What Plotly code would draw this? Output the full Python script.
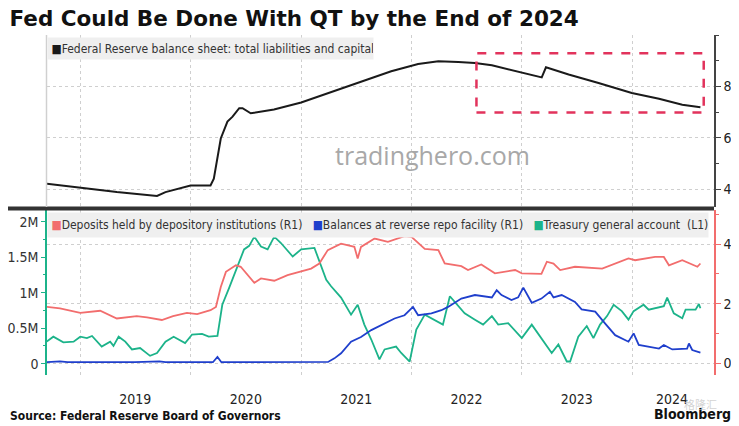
import plotly.graph_objects as go

# ---------------- data ----------------
title_text = "Fed Could Be Done With QT by the End of 2024"
source_text = "Source: Federal Reserve Board of Governors"

bs_name = "Federal Reserve balance sheet: total liabilities and capital"
bs_dates = ["2018-09-12", "2019-01-01", "2019-05-02", "2019-09-12", "2019-10-10", "2020-01-01",
            "2020-03-07", "2020-03-18", "2020-04-10", "2020-05-02", "2020-05-19", "2020-06-10",
            "2020-06-21", "2020-07-18", "2020-10-03", "2021-01-01", "2021-03-17", "2021-07-07",
            "2021-10-26", "2022-01-23", "2022-03-31", "2022-06-05", "2022-07-30", "2022-09-24",
            "2022-12-10", "2023-03-08", "2023-03-22", "2023-06-05", "2023-09-12", "2023-12-31",
            "2024-03-30", "2024-06-15", "2024-08-14"]
bs_vals = [4.21, 4.05, 3.88, 3.73, 3.88, 4.14,
           4.14, 4.40, 5.97, 6.63, 6.82, 7.15,
           7.15, 6.95, 7.10, 7.37, 7.67, 8.13,
           8.59, 8.87, 8.98, 8.95, 8.91, 8.82,
           8.59, 8.35, 8.74, 8.46, 8.13, 7.74,
           7.52, 7.28, 7.19]

dep_name = "Deposits held by depository institutions (R1)"
dep_dates = ["2018-09-12", "2018-10-26", "2019-01-01", "2019-03-08", "2019-05-02", "2019-07-07",
             "2019-08-10", "2019-09-28", "2019-11-04", "2019-12-20", "2020-01-23", "2020-03-07",
             "2020-03-25", "2020-04-10", "2020-04-27", "2020-05-30", "2020-06-15", "2020-07-30",
             "2020-08-21", "2020-10-04", "2020-11-17", "2021-02-03", "2021-03-02", "2021-03-30",
             "2021-05-13", "2021-06-26", "2021-07-07", "2021-07-18", "2021-09-01", "2021-10-15",
             "2021-12-09", "2022-01-01", "2022-02-14", "2022-03-31", "2022-04-21", "2022-06-15",
             "2022-07-07", "2022-08-20", "2022-10-04", "2022-12-10", "2023-01-01", "2023-03-07",
             "2023-03-25", "2023-04-16", "2023-05-08", "2023-06-26", "2023-09-24", "2023-11-06",
             "2023-12-20", "2024-01-11", "2024-03-17", "2024-04-15", "2024-05-02", "2024-06-15",
             "2024-08-04", "2024-08-14"]
dep_vals = [1.89, 1.84, 1.69, 1.76, 1.50, 1.58,
            1.54, 1.45, 1.58, 1.69, 1.65, 1.78,
            1.89, 2.56, 3.07, 3.29, 3.24, 2.70,
            2.85, 2.77, 2.96, 3.18, 3.35, 3.80,
            4.02, 3.91, 3.52, 3.91, 4.19, 4.08,
            4.27, 4.25, 3.84, 3.80, 3.35, 3.26,
            3.13, 3.32, 3.02, 3.13, 3.02, 3.00,
            3.41, 3.35, 3.13, 3.24, 3.18, 3.35,
            3.52, 3.46, 3.57, 3.57, 3.29, 3.46,
            3.24, 3.35]

rrp_name = "Balances at reverse repo facility (R1)"
rrp_dates = ["2018-09-12", "2018-10-26", "2018-11-20", "2019-07-01", "2019-09-20", "2019-10-10",
             "2020-03-15", "2020-03-30", "2020-04-12", "2021-03-31", "2021-04-21", "2021-05-13",
             "2021-06-15", "2021-07-18", "2021-08-21", "2021-10-04", "2021-11-06", "2021-12-09",
             "2022-01-06", "2022-01-23", "2022-03-08", "2022-04-10", "2022-05-02", "2022-06-15",
             "2022-07-30", "2022-09-24", "2022-10-10", "2022-10-26", "2022-11-28", "2022-12-20",
             "2023-01-06", "2023-02-03", "2023-03-07", "2023-04-04", "2023-04-16", "2023-05-13",
             "2023-06-26", "2023-07-18", "2023-09-01", "2023-10-04", "2023-11-06", "2023-12-20",
             "2024-01-06", "2024-01-23", "2024-03-30", "2024-04-15", "2024-05-13", "2024-07-01",
             "2024-07-07", "2024-07-18", "2024-08-14"]
rrp_vals = [0.03, 0.06, 0.03, 0.03, 0.06, 0.03,
            0.03, 0.21, 0.03, 0.04, 0.16, 0.33,
            0.72, 0.88, 1.11, 1.33, 1.50, 1.61,
            1.89, 1.61, 1.67, 1.78, 1.89, 2.17,
            2.29, 2.21, 2.45, 2.29, 2.12, 2.21,
            2.54, 2.03, 2.17, 2.40, 2.21, 2.29,
            2.06, 1.81, 1.73, 1.33, 0.94, 0.72,
            1.00, 0.61, 0.49, 0.61, 0.46, 0.49,
            0.66, 0.44, 0.35]

tga_name = "Treasury general account  (L1)"
tga_dates = ["2018-09-12", "2018-10-04", "2018-11-06", "2018-12-10", "2019-01-01", "2019-01-23",
             "2019-02-09", "2019-03-13", "2019-04-10", "2019-04-21", "2019-05-08", "2019-05-30",
             "2019-06-21", "2019-07-18", "2019-08-20", "2019-09-12", "2019-10-10", "2019-11-06",
             "2019-12-14", "2020-01-06", "2020-02-08", "2020-03-01", "2020-03-30", "2020-04-15",
             "2020-05-08", "2020-06-05", "2020-06-26", "2020-07-13", "2020-07-30", "2020-08-21",
             "2020-09-12", "2020-10-04", "2020-10-26", "2020-12-04", "2021-01-01", "2021-02-14",
             "2021-03-02", "2021-03-25", "2021-04-10", "2021-05-13", "2021-06-15", "2021-07-07",
             "2021-07-29", "2021-08-21", "2021-09-17", "2021-10-04", "2021-11-11", "2021-11-28",
             "2021-12-26", "2022-01-17", "2022-02-14", "2022-03-18", "2022-04-15", "2022-05-08",
             "2022-06-04", "2022-06-26", "2022-07-30", "2022-08-26", "2022-09-24", "2022-10-15",
             "2022-11-17", "2023-01-01", "2023-02-03", "2023-03-07", "2023-04-10", "2023-05-02",
             "2023-05-30", "2023-06-10", "2023-07-07", "2023-08-04", "2023-08-26", "2023-09-17",
             "2023-10-10", "2023-11-01", "2023-11-28", "2023-12-20", "2024-01-06", "2024-02-08",
             "2024-02-25", "2024-04-15", "2024-04-26", "2024-05-18", "2024-06-15", "2024-06-26",
             "2024-07-29", "2024-08-09", "2024-08-14"]
tga_vals = [0.31, 0.38, 0.30, 0.31, 0.38, 0.36,
            0.39, 0.24, 0.31, 0.25, 0.38, 0.31,
            0.20, 0.22, 0.11, 0.15, 0.31, 0.38,
            0.29, 0.41, 0.42, 0.38, 0.39, 0.83,
            1.07, 1.37, 1.61, 1.66, 1.79, 1.65,
            1.61, 1.79, 1.70, 1.51, 1.61, 1.63,
            1.45, 1.18, 1.09, 0.93, 0.69, 0.83,
            0.55, 0.34, 0.06, 0.20, 0.24, 0.15,
            0.03, 0.48, 0.69, 0.62, 0.55, 0.95,
            0.81, 0.71, 0.62, 0.55, 0.67, 0.55,
            0.57, 0.36, 0.55, 0.36, 0.15, 0.27,
            0.03, 0.03, 0.38, 0.53, 0.36, 0.55,
            0.67, 0.83, 0.74, 0.62, 0.74, 0.83,
            0.76, 0.81, 0.93, 0.71, 0.64, 0.76,
            0.76, 0.84, 0.78]

year_labels = ["2019", "2020", "2021", "2022", "2023", "2024"]
year_label_pos = ["2019-07-02", "2020-07-02", "2021-07-02", "2022-07-02", "2023-07-02", "2024-05-12"]
year_starts = ["2019-01-01", "2020-01-01", "2021-01-01", "2022-01-01", "2023-01-01", "2024-01-01"]

top_ticks = [4, 6, 8]
left_ticks = [0, 0.5, 1, 1.5, 2]
left_ticktext = ["0", "0.5M", "1M", "1.5M", "2M"]
right_ticks = [0, 2, 4]

# ---------------- styling ----------------
# the page body has an 8px margin, so the figure is drawn 8px smaller and
# every page-pixel position below is converted to figure pixels.
OFF = 8
PAGE_W, PAGE_H = 739, 426
W, H = PAGE_W - OFF, PAGE_H - OFF
# plot area in page pixels: x 47..714, y 35..375
PL, PR, PT, PB = 47, 714, 35, 375
ML, MR, MT, MB = PL - OFF, PAGE_W - PR, PT - OFF, PAGE_H - PB
PW, PH = PR - PL, PB - PT

def px(x):
    return (x - PL) / PW

def py(y):
    return (PB - y) / PH

FONT = "DejaVu Sans Condensed, Liberation Sans Narrow, Arial Narrow, DejaVu Sans, sans-serif"
C_BS = "#1a1a1a"
C_DEP = "#f26d6d"
C_RRP = "#1f3fcc"
C_TGA = "#1cb38a"
GRID = "#cfcfcf"

x_range = ["2018-09-13", "2024-09-28"]

fig = go.Figure()
fig.add_trace(go.Scatter(x=bs_dates, y=bs_vals, mode="lines", name=bs_name,
                         line=dict(color=C_BS, width=2), xaxis="x", yaxis="y", showlegend=False))
fig.add_trace(go.Scatter(x=dep_dates, y=dep_vals, mode="lines", name=dep_name,
                         line=dict(color=C_DEP, width=1.8), xaxis="x2", yaxis="y3", showlegend=False))
fig.add_trace(go.Scatter(x=rrp_dates, y=rrp_vals, mode="lines", name=rrp_name,
                         line=dict(color=C_RRP, width=1.8), xaxis="x2", yaxis="y3", showlegend=False))
fig.add_trace(go.Scatter(x=tga_dates, y=tga_vals, mode="lines", name=tga_name,
                         line=dict(color=C_TGA, width=1.8), xaxis="x2", yaxis="y2", showlegend=False))

top_dom = [py(207), 1.0]
bot_dom = [0.0, py(210)]

minor_grid = dict(tickvals=year_starts, showgrid=True, gridcolor=GRID, griddash="dot", gridwidth=1, ticks="")

fig.update_layout(
    width=W, height=H,
    margin=dict(l=ML, r=MR, t=MT, b=MB, autoexpand=False),
    paper_bgcolor="white", plot_bgcolor="white",
    font=dict(family=FONT, size=13, color="#222"),
    showlegend=False,
    title=dict(text="<b>" + title_text + "</b>", x=1.5 / W, xref="container", xanchor="left",
               y=1 - (18.5 - OFF) / H, yref="container", yanchor="middle",
               font=dict(family="DejaVu Sans, Verdana, sans-serif", size=21.5, color="#111")),
    xaxis=dict(domain=[0, 1], anchor="y", type="date", range=x_range, showticklabels=False,
               showgrid=False, zeroline=False, showline=False, ticks="", minor=minor_grid,
               tickvals=year_label_pos),
    yaxis=dict(domain=top_dom, anchor="x", side="right", range=[3.3, 10.0],
               tickvals=top_ticks, ticks="outside", ticklen=5, tickcolor="#444",
               showline=True, linecolor="#444", linewidth=1.5,
               showgrid=True, gridcolor=GRID, griddash="dot", zeroline=False,
               tickfont=dict(size=14, color="#222"),
               minor=dict(dtick=1, tick0=0, ticks="outside", ticklen=3, tickcolor="#444", showgrid=False)),
    xaxis2=dict(domain=[0, 1], anchor="y2", type="date", range=x_range, matches="x",
                tickvals=year_label_pos, ticktext=year_labels, ticks="", showgrid=False,
                zeroline=False, showline=False, ticklabelstandoff=14,
                tickfont=dict(size=14, color="#222"), minor=minor_grid),
    yaxis2=dict(domain=bot_dom, anchor="x2", side="left", range=[-0.16, 2.165],
                tickvals=left_ticks, ticktext=left_ticktext, ticks="outside", ticklen=4,
                tickcolor=C_TGA, showline=True, linecolor=C_TGA, linewidth=1.5,
                showgrid=False, zeroline=False, tickfont=dict(size=14, color="#333"),
                minor=dict(dtick=0.25, tick0=0, ticks="outside", ticklen=2, tickcolor=C_TGA)),
    yaxis3=dict(overlaying="y2", anchor="x2", side="right", range=[-0.4, 5.15],
                tickvals=right_ticks, ticks="outside", ticklen=5, tickcolor=C_DEP,
                showline=True, linecolor=C_DEP, linewidth=1.5,
                showgrid=True, gridcolor=GRID, griddash="dot", zeroline=False,
                tickfont=dict(size=14, color="#222"),
                minor=dict(dtick=1, tick0=0, ticks="outside", ticklen=3, tickcolor=C_DEP)),
)

shapes = [
    # separator between panels
    dict(type="line", xref="paper", yref="paper", x0=px(OFF), x1=1.0, y0=py(208.5), y1=py(208.5),
         line=dict(color="#333", width=4)),
    # light left border of the top panel
    dict(type="line", xref="paper", yref="paper", x0=px(46.5), x1=px(46.5), y0=py(207), y1=py(35),
         line=dict(color="#d0d0d0", width=1.5)),
    # highlighted QT window
    dict(type="rect", xref="x", yref="y", x0="2022-08-04", x1="2024-08-25", y0=6.98, y1=9.29,
         line=dict(color="#e2335c", width=2.5, dash="dash"), fillcolor="rgba(0,0,0,0)"),
]
fig.update_layout(shapes=shapes)

sq = "■"
annotations = [
    dict(xref="paper", yref="paper", x=0, y=py(37), xanchor="left", yanchor="top",
         width=325, height=21, align="left", bgcolor="#efefef", showarrow=False, borderpad=0,
         text=f"&nbsp;<span style='color:{C_BS}'>{sq}</span>{bs_name}",
         font=dict(family=FONT, size=12, color="#333")),
    dict(xref="paper", yref="paper", x=0, y=py(212), xanchor="left", yanchor="top",
         width=660, height=24, align="left", bgcolor="#efefef", showarrow=False, borderpad=0,
         text=(f"&nbsp;<span style='color:{C_DEP}'>{sq}</span>{dep_name}&nbsp;&nbsp;&nbsp;"
               f"<span style='color:{C_RRP}'>{sq}</span>{rrp_name}&nbsp;&nbsp;&nbsp;"
               f"<span style='color:{C_TGA}'>{sq}</span>{tga_name.replace('  ', '&nbsp;&nbsp;')}"),
         font=dict(family=FONT, size=12, color="#333")),
    dict(xref="paper", yref="paper", x=px(432), y=py(155), xanchor="center", yanchor="middle",
         showarrow=False, text="tradinghero.com",
         font=dict(family="Open Sans, Noto Sans, sans-serif", size=25, color="#a8a8a8")),
    dict(xref="paper", yref="paper", x=px(8), y=py(416), xanchor="left", yanchor="middle",
         showarrow=False, text="<b>" + source_text + "</b>",
         font=dict(family=FONT, size=12, color="#111")),
    dict(xref="paper", yref="paper", x=px(733), y=py(414), xanchor="right", yanchor="middle",
         showarrow=False, text="<b>Bloomberg</b>",
         font=dict(family=FONT, size=14, color="#111")),
    dict(xref="paper", yref="paper", x=px(700), y=py(404), xanchor="center", yanchor="middle",
         showarrow=False, text="格隆汇",
         font=dict(family="Noto Sans CJK SC, sans-serif", size=11, color="rgba(200,200,200,0.8)")),
]
fig.update_layout(annotations=annotations)

fig.write_html("out.html")
